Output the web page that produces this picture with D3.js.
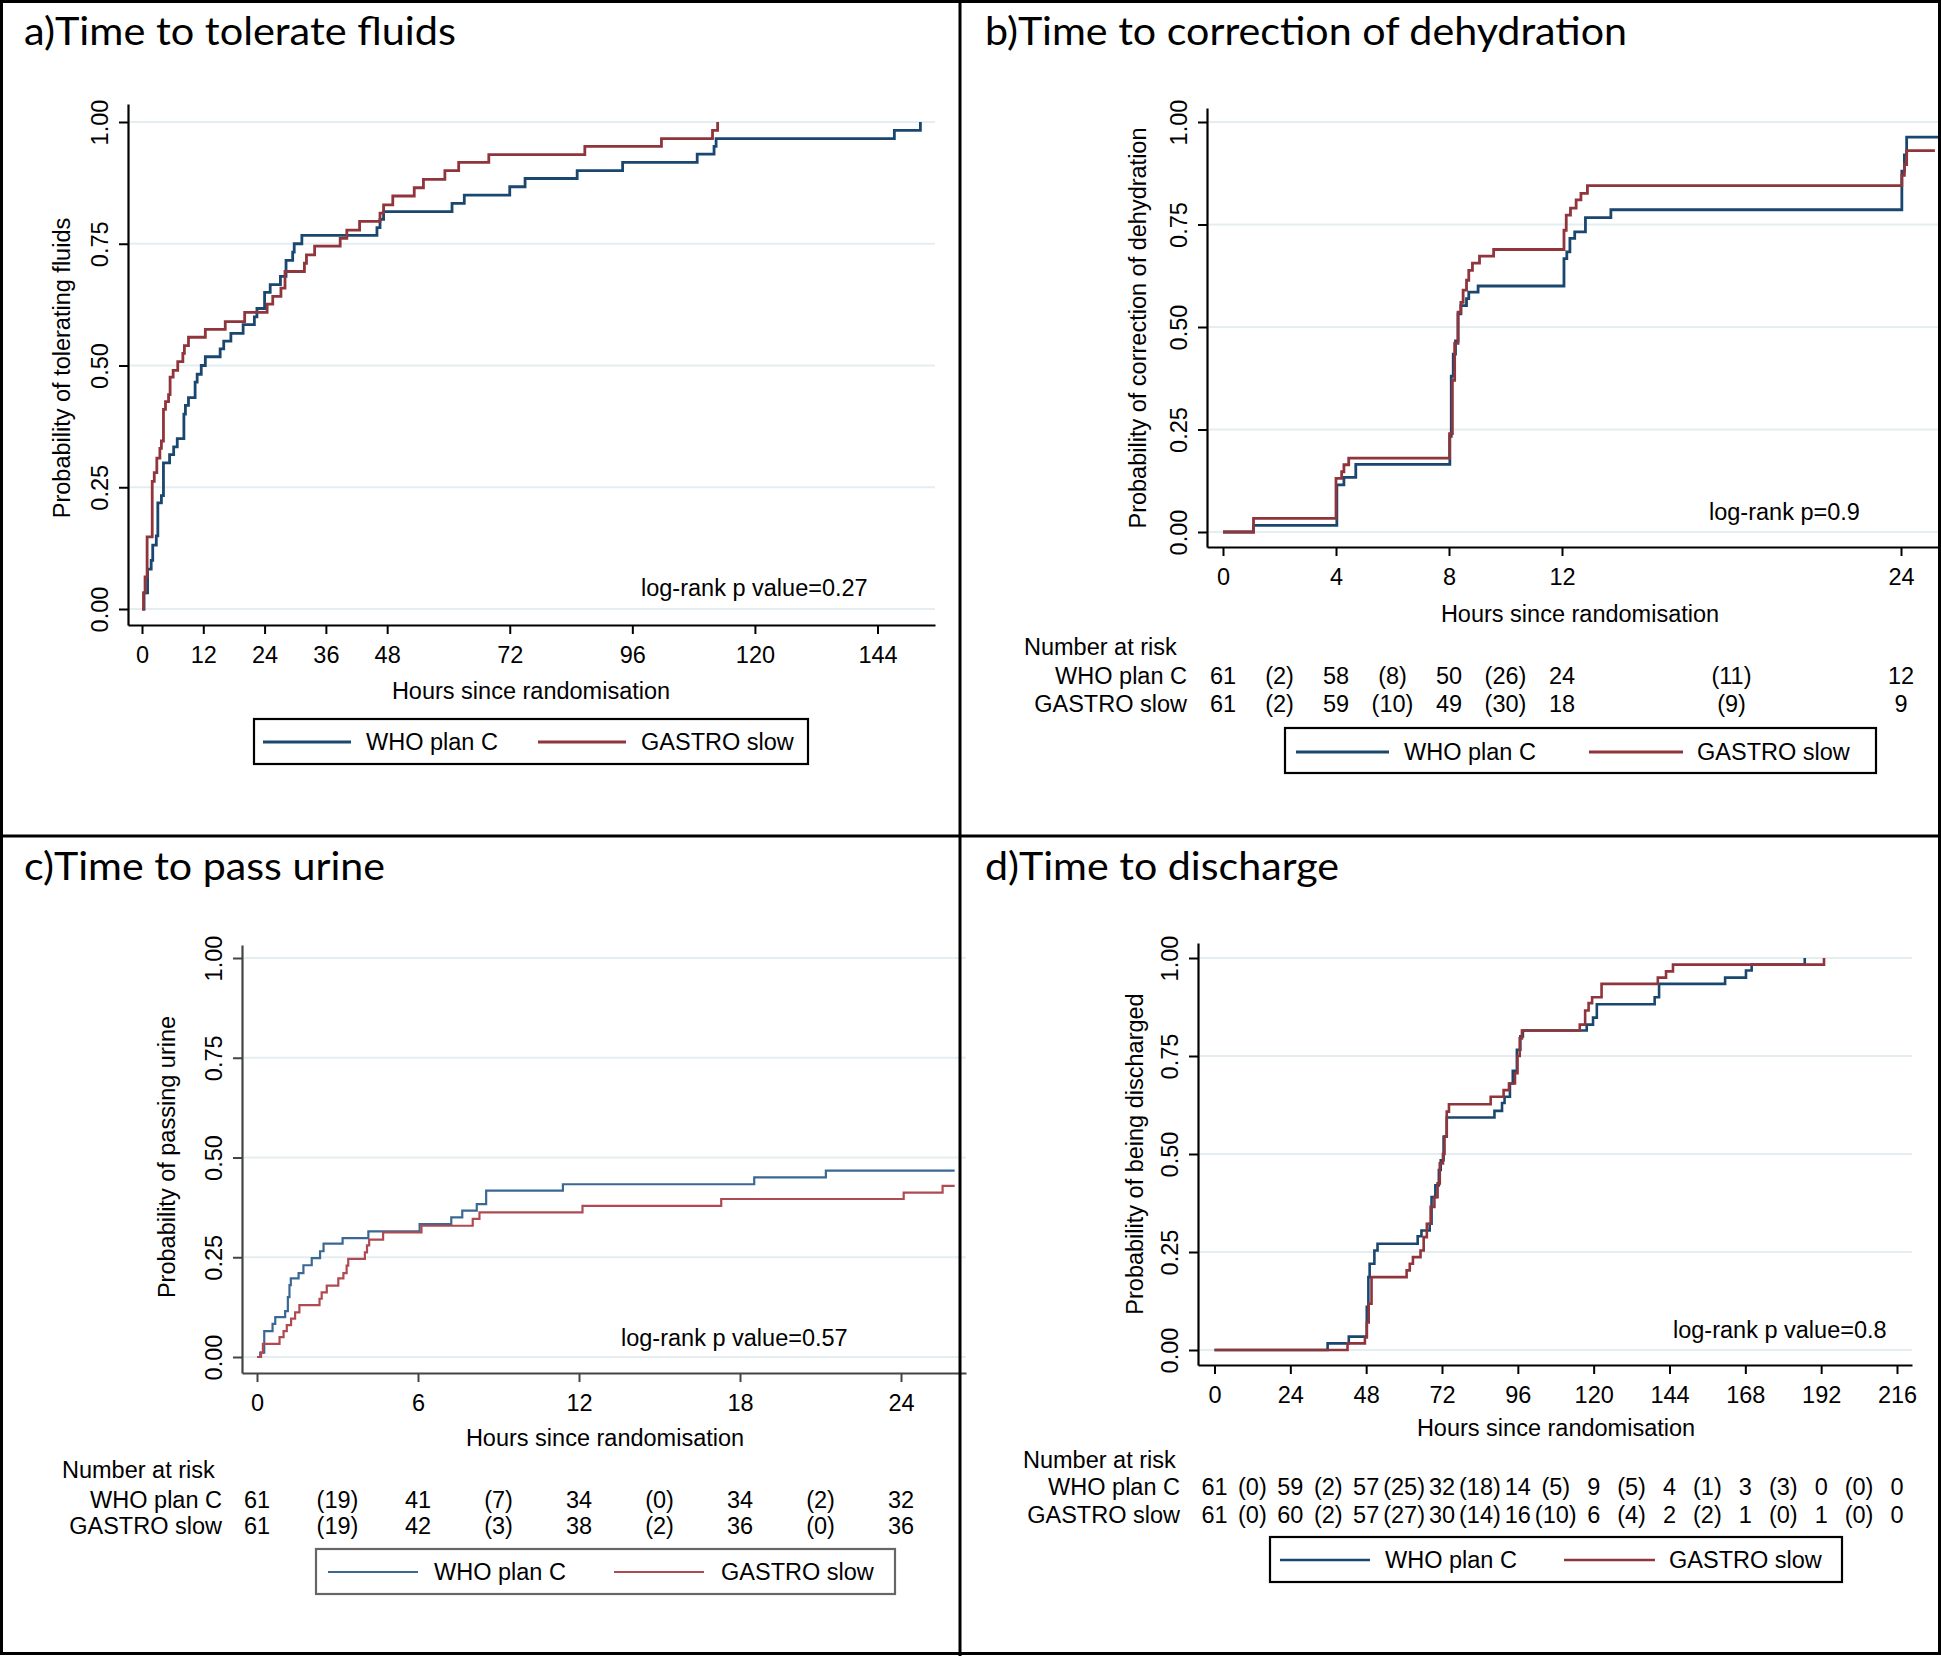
<!DOCTYPE html>
<html><head><meta charset="utf-8">
<script src="https://cdn.jsdelivr.net/npm/d3@7"></script>
<style>body{margin:0;background:#fff}svg{display:block}</style>
</head><body>
<svg id="chart" width="1941" height="1656"></svg>
<script>
// ---------------- DATA ----------------
const seriesNames = ["WHO plan C", "GASTRO slow"];
const panelTitles = ["a)Time to tolerate fluids", "b)Time to correction of dehydration", "c)Time to pass urine", "d)Time to discharge"];
const yAxisTitles = ["Probability of tolerating fluids", "Probability of correction of dehydration", "Probability of passing urine", "Probability of being discharged"];
const xAxisTitle = "Hours since randomisation";
const pValueTexts = ["log-rank p value=0.27", "log-rank p=0.9", "log-rank p value=0.57", "log-rank p value=0.8"];
const yTicks = [0, 0.25, 0.5, 0.75, 1];
const yTickLabels = ["0.00", "0.25", "0.50", "0.75", "1.00"];
const aXTicks = [0, 12, 24, 36, 48, 72, 96, 120, 144];
const bXTicks = [0, 4, 8, 12, 24];
const cXTicks = [0, 6, 12, 18, 24];
const dXTicks = [0, 24, 48, 72, 96, 120, 144, 168, 192, 216];

// a) time to tolerate fluids
const aWhoT = [0, 0.4, 1.1, 1.8, 2.1, 2.8, 3.1, 3.8, 4.2, 5.4, 6.2, 6.9, 8.2, 8.5, 9.1, 10.4, 10.8, 11.6, 12.4, 15.3, 16.0, 17.4, 19.8, 22.0, 22.5, 24.0, 25.1, 27.1, 28.2, 29.5, 29.8, 31.3, 46.0, 46.6, 47.3, 60.7, 63.1, 72.0, 75.0, 85.2, 94.1, 108.7, 112.0, 112.4, 147.3, 152.4];
const aWhoP = [0, 0.033, 0.082, 0.10, 0.131, 0.15, 0.218, 0.233, 0.30, 0.317, 0.333, 0.35, 0.40, 0.418, 0.434, 0.466, 0.482, 0.50, 0.518, 0.534, 0.55, 0.566, 0.584, 0.60, 0.617, 0.65, 0.666, 0.683, 0.716, 0.733, 0.75, 0.767, 0.783, 0.80, 0.816, 0.833, 0.85, 0.867, 0.884, 0.90, 0.917, 0.934, 0.95, 0.966, 0.983, 1.0];
const aGasT = [0, 0.3, 0.6, 1.0, 2.0, 2.4, 2.9, 3.5, 3.8, 4.2, 4.6, 5.2, 5.5, 6.1, 7.0, 8.0, 8.3, 9.1, 12.4, 16.3, 20.1, 24.5, 25.6, 27.2, 28.0, 31.8, 32.2, 33.8, 38.8, 40.1, 42.6, 46.6, 47.3, 49.1, 53.3, 55.1, 59.3, 62.0, 67.9, 86.7, 101.7, 111.7, 112.7];
const aGasP = [0, 0.033, 0.066, 0.148, 0.262, 0.28, 0.31, 0.33, 0.345, 0.41, 0.426, 0.44, 0.476, 0.49, 0.508, 0.525, 0.541, 0.558, 0.574, 0.59, 0.609, 0.626, 0.642, 0.659, 0.693, 0.71, 0.727, 0.745, 0.761, 0.778, 0.796, 0.813, 0.83, 0.848, 0.865, 0.882, 0.90, 0.917, 0.933, 0.95, 0.966, 0.983, 1.0];

// b) time to correction of dehydration
const bWhoT = [0, 1.08, 4.03, 4.28, 4.7, 8.03, 8.08, 8.15, 8.23, 8.32, 8.42, 8.62, 8.7, 9.03, 12.07, 12.17, 12.28, 12.45, 12.83, 13.73, 24.03, 24.12, 24.2];
const bWhoP = [0, 0.016, 0.115, 0.133, 0.165, 0.233, 0.38, 0.434, 0.466, 0.532, 0.552, 0.569, 0.585, 0.60, 0.667, 0.683, 0.716, 0.732, 0.767, 0.786, 0.88, 0.92, 0.963];
const bGasT = [0, 1.08, 4.0, 4.2, 4.28, 4.45, 8.02, 8.12, 8.2, 8.32, 8.42, 8.5, 8.62, 8.7, 8.83, 9.08, 9.58, 12.07, 12.15, 12.3, 12.5, 12.67, 12.9, 24.03, 24.12, 24.2];
const bGasP = [0, 0.033, 0.131, 0.147, 0.164, 0.18, 0.24, 0.37, 0.46, 0.536, 0.56, 0.59, 0.614, 0.638, 0.656, 0.673, 0.689, 0.736, 0.773, 0.79, 0.81, 0.826, 0.845, 0.87, 0.896, 0.93];
const bEnd = [25.4, 25.2];
const bRiskTimes = [0, 2, 4, 6, 8, 10, 12, 18, 24];
const bRiskWho = ["61", "(2)", "58", "(8)", "50", "(26)", "24", "(11)", "12"];
const bRiskGas = ["61", "(2)", "59", "(10)", "49", "(30)", "18", "(9)", "9"];

// c) time to pass urine
const cWhoT = [0, 0.12, 0.27, 0.58, 0.68, 1.05, 1.15, 1.21, 1.26, 1.55, 1.73, 2.04, 2.35, 2.48, 3.19, 4.15, 6.06, 7.24, 7.65, 8.19, 8.54, 11.4, 18.53, 21.2];
const cWhoP = [0, 0.011, 0.065, 0.083, 0.10, 0.115, 0.15, 0.18, 0.197, 0.21, 0.23, 0.248, 0.265, 0.284, 0.298, 0.315, 0.333, 0.35, 0.367, 0.383, 0.417, 0.433, 0.45, 0.467];
const cGasT = [0, 0.15, 0.22, 0.84, 0.99, 1.11, 1.27, 1.42, 1.58, 2.33, 2.41, 2.6, 3.03, 3.22, 3.34, 3.4, 4.02, 4.1, 4.18, 4.7, 6.13, 8.04, 8.29, 12.13, 17.3, 24.1, 25.55];
const cGasP = [0, 0.011, 0.033, 0.05, 0.065, 0.08, 0.096, 0.112, 0.13, 0.146, 0.162, 0.179, 0.197, 0.21, 0.229, 0.246, 0.262, 0.28, 0.294, 0.3125, 0.329, 0.346, 0.3625, 0.379, 0.396, 0.412, 0.429];
const cEnd = [26.0, 26.0];
const cRiskTimes = [0, 3, 6, 9, 12, 15, 18, 21, 24];
const cRiskWho = ["61", "(19)", "41", "(7)", "34", "(0)", "34", "(2)", "32"];
const cRiskGas = ["61", "(19)", "42", "(3)", "38", "(2)", "36", "(0)", "36"];

// d) time to discharge
const dWhoT = [0, 35.8, 42.5, 48.2, 48.7, 49.1, 50.6, 51.6, 64.3, 65.5, 68.1, 68.7, 69.9, 71.0, 71.6, 72.5, 73.5, 88.6, 91.0, 91.8, 93.5, 94.4, 95.7, 96.8, 97.6, 117.8, 119.8, 121.0, 139.3, 140.7, 161.6, 168.2, 170.0, 186.8];
const dWhoP = [0, 0.017, 0.034, 0.11, 0.186, 0.22, 0.254, 0.271, 0.29, 0.305, 0.322, 0.39, 0.42, 0.459, 0.484, 0.544, 0.593, 0.61, 0.63, 0.646, 0.68, 0.712, 0.766, 0.80, 0.815, 0.83, 0.848, 0.882, 0.90, 0.934, 0.95, 0.968, 0.983, 1.0];
const dGasT = [0, 42.1, 47.6, 48.2, 48.8, 49.7, 60.8, 61.8, 62.8, 65.2, 66.2, 67.2, 68.4, 69.6, 70.6, 71.3, 72.3, 72.8, 73.5, 74.2, 87.4, 91.5, 93.2, 95.1, 95.9, 96.6, 97.3, 115.6, 117.3, 118.4, 119.5, 122.5, 140.3, 142.9, 145.1, 192.9];
const dGasP = [0, 0.017, 0.032, 0.07, 0.118, 0.186, 0.203, 0.22, 0.237, 0.254, 0.288, 0.322, 0.365, 0.39, 0.425, 0.476, 0.5, 0.545, 0.608, 0.627, 0.646, 0.663, 0.68, 0.706, 0.75, 0.795, 0.815, 0.83, 0.866, 0.885, 0.90, 0.934, 0.95, 0.966, 0.983, 1.0];
const dRiskTimes = [0, 12, 24, 36, 48, 60, 72, 84, 96, 108, 120, 132, 144, 156, 168, 180, 192, 204, 216];
const dRiskWho = ["61", "(0)", "59", "(2)", "57", "(25)", "32", "(18)", "14", "(5)", "9", "(5)", "4", "(1)", "3", "(3)", "0", "(0)", "0"];
const dRiskGas = ["61", "(0)", "60", "(2)", "57", "(27)", "30", "(14)", "16", "(10)", "6", "(4)", "2", "(2)", "1", "(0)", "1", "(0)", "0"];

// ---------------- DRAWING ----------------
const FONT = "'Liberation Sans', Arial, sans-serif";
const FS = 23.5;
const svg = d3.select("#chart");
svg.append("rect").attr("width", 1941).attr("height", 1656).attr("fill", "#fff");

const panels = [
  { title: panelTitles[0], titleX: 24, titleY: 45, titleW: 432,
    yTitle: yAxisTitles[0], yTitleX: 62, yTitleY: 368,
    axL: 128, axR: 935, axT: 104, axB: 625, x0px: 142, xRef: 144, xRefPx: 877.5, y0px: 609, y1px: 122,
    xTicks: aXTicks, xTitleX: 531, xTitleY: 691, pText: pValueTexts[0], pX: 641, pY: 588,
    series: [[aWhoT, aWhoP, null], [aGasT, aGasP, null]],
    colors: ["#1a476f", "#90353b"], lw: 2.8, axisColor: "#000",
    legend: { x0: 254, x1: 808, y0: 719, y1: 764, l1: [263, 351], t1: 366, l2: [538, 626], t2: 641, yc: 742, stroke: "#000" } },
  { title: panelTitles[1], titleX: 985, titleY: 45, titleW: 642,
    yTitle: yAxisTitles[1], yTitleX: 1138, yTitleY: 328,
    axL: 1207, axR: 1940, axT: 108, axB: 547, x0px: 1223, xRef: 24, xRefPx: 1901, y0px: 532, y1px: 122,
    xTicks: bXTicks, xTitleX: 1580, xTitleY: 614, pText: pValueTexts[1], pX: 1709, pY: 512,
    series: [[bWhoT, bWhoP, bEnd[0]], [bGasT, bGasP, bEnd[1]]],
    colors: ["#1a476f", "#90353b"], lw: 2.8, axisColor: "#000",
    risk: { times: bRiskTimes, rows: [bRiskWho, bRiskGas], labelR: 1187, headX: 1024, headY: 647, rowY: [676, 704] },
    legend: { x0: 1285, x1: 1876, y0: 728, y1: 773, l1: [1296, 1389], t1: 1404, l2: [1589, 1683], t2: 1697, yc: 752, stroke: "#000" } },
  { title: panelTitles[2], titleX: 24, titleY: 880, titleW: 361,
    yTitle: yAxisTitles[2], yTitleX: 167, yTitleY: 1157,
    axL: 242, axR: 966, axT: 945, axB: 1373, x0px: 257, xRef: 24, xRefPx: 901, y0px: 1357, y1px: 958,
    xTicks: cXTicks, xTitleX: 605, xTitleY: 1438, pText: pValueTexts[2], pX: 621, pY: 1338,
    series: [[cWhoT, cWhoP, cEnd[0]], [cGasT, cGasP, cEnd[1]]],
    colors: ["#3a6894", "#b04a52"], lw: 2.2, axisColor: "#444",
    risk: { times: cRiskTimes, rows: [cRiskWho, cRiskGas], labelR: 222, headX: 62, headY: 1470, rowY: [1500, 1526] },
    legend: { x0: 316, x1: 895, y0: 1549, y1: 1594, l1: [328, 418], t1: 434, l2: [614, 704], t2: 721, yc: 1572, stroke: "#666" } },
  { title: panelTitles[3], titleX: 985, titleY: 880, titleW: 354,
    yTitle: yAxisTitles[3], yTitleX: 1135, yTitleY: 1154,
    axL: 1198, axR: 1912, axT: 943, axB: 1365, x0px: 1214.5, xRef: 216, xRefPx: 1897, y0px: 1350, y1px: 958,
    xTicks: dXTicks, xTitleX: 1556, xTitleY: 1428, pText: pValueTexts[3], pX: 1673, pY: 1330,
    series: [[dWhoT, dWhoP, null], [dGasT, dGasP, null]],
    colors: ["#1a476f", "#90353b"], lw: 2.6, axisColor: "#000",
    risk: { times: dRiskTimes, rows: [dRiskWho, dRiskGas], labelR: 1180, headX: 1023, headY: 1460, rowY: [1487, 1515] },
    legend: { x0: 1270, x1: 1842, y0: 1537, y1: 1582, l1: [1280, 1370], t1: 1385, l2: [1564, 1655], t2: 1669, yc: 1560, stroke: "#000" } }
];

function drawPanel(p) {
  const g = svg.append("g");
  // scales built from two anchor points, extended to the axis lines
  const xa = d3.scaleLinear().domain([0, p.xRef]).range([p.x0px, p.xRefPx]);
  const x = d3.scaleLinear().domain([xa.invert(p.axL), xa.invert(p.axR)]).range([p.axL, p.axR]);
  const ya = d3.scaleLinear().domain([0, 1]).range([p.y0px, p.y1px]);
  const y = d3.scaleLinear().domain([ya.invert(p.axB), ya.invert(p.axT)]).range([p.axB, p.axT]);

  // title
  g.append("text").attr("x", p.titleX).attr("y", p.titleY).text(p.title)
    .attr("font-family", "Lato, 'Open Sans', sans-serif").attr("font-size", 39)
    .attr("textLength", p.titleW).attr("lengthAdjust", "spacingAndGlyphs").attr("fill", "#000");

  // grid
  g.append("g").selectAll("line").data(yTicks).join("line")
    .attr("x1", p.axL + 2).attr("x2", p.axR).attr("y1", d => y(d)).attr("y2", d => y(d))
    .attr("stroke", "#e4edf0").attr("stroke-width", 2.2);

  // x axis
  const gx = g.append("g").attr("transform", `translate(0,${p.axB})`)
    .call(d3.axisBottom(x).tickValues(p.xTicks).tickFormat(d3.format("d")).tickSize(9).tickSizeOuter(0));
  gx.select(".domain").attr("stroke", p.axisColor).attr("stroke-width", 2.2);
  gx.selectAll(".tick line").attr("stroke", p.axisColor).attr("stroke-width", 2);
  gx.selectAll(".tick text").attr("y", 30).attr("dy", null).attr("dominant-baseline", "central")
    .attr("font-family", FONT).attr("font-size", FS).attr("fill", "#000");

  // y axis
  const gy = g.append("g").attr("transform", `translate(${p.axL},0)`)
    .call(d3.axisLeft(y).tickValues(yTicks).tickFormat((d, i) => yTickLabels[i]).tickSize(9).tickSizeOuter(0));
  gy.select(".domain").attr("stroke", p.axisColor).attr("stroke-width", 2.2);
  gy.selectAll(".tick line").attr("stroke", p.axisColor).attr("stroke-width", 2);
  gy.selectAll(".tick text").attr("x", null).attr("dy", null)
    .attr("transform", "translate(-28,0) rotate(-90)").attr("text-anchor", "middle")
    .attr("dominant-baseline", "central").attr("font-family", FONT).attr("font-size", FS).attr("fill", "#000");

  // axis titles
  g.append("text").attr("x", p.xTitleX).attr("y", p.xTitleY).attr("text-anchor", "middle")
    .attr("dominant-baseline", "central").attr("font-family", FONT).attr("font-size", FS).text(xAxisTitle);
  g.append("text").attr("transform", `translate(${p.yTitleX},${p.yTitleY}) rotate(-90)`)
    .attr("text-anchor", "middle").attr("dominant-baseline", "central")
    .attr("font-family", FONT).attr("font-size", FS).text(p.yTitle);

  // curves
  const line = d3.line().x(d => x(d[0])).y(d => y(d[1])).curve(d3.curveStepAfter);
  p.series.forEach((s, i) => {
    const pts = s[0].map((t, k) => [t, s[1][k]]);
    if (s[2] != null) pts.push([s[2], s[1][s[1].length - 1]]);
    g.append("path").datum(pts).attr("d", line).attr("fill", "none")
      .attr("stroke", p.colors[i]).attr("stroke-width", p.lw).attr("stroke-linejoin", "miter");
  });

  // p-value text
  g.append("text").attr("x", p.pX).attr("y", p.pY).attr("dominant-baseline", "central")
    .attr("font-family", FONT).attr("font-size", FS).text(p.pText);

  // number at risk
  if (p.risk) {
    const r = p.risk;
    g.append("text").attr("x", r.headX).attr("y", r.headY).attr("dominant-baseline", "central")
      .attr("font-family", FONT).attr("font-size", FS).text("Number at risk");
    r.rows.forEach((row, i) => {
      g.append("text").attr("x", r.labelR).attr("y", r.rowY[i]).attr("text-anchor", "end")
        .attr("dominant-baseline", "central").attr("font-family", FONT).attr("font-size", FS).text(seriesNames[i]);
      g.append("g").selectAll("text").data(row).join("text")
        .attr("x", (d, k) => x(r.times[k])).attr("y", r.rowY[i]).attr("text-anchor", "middle")
        .attr("dominant-baseline", "central").attr("font-family", FONT).attr("font-size", FS).text(d => d);
    });
  }

  // legend
  const L = p.legend;
  g.append("rect").attr("x", L.x0).attr("y", L.y0).attr("width", L.x1 - L.x0).attr("height", L.y1 - L.y0)
    .attr("fill", "#fff").attr("stroke", L.stroke).attr("stroke-width", 2.2);
  [[L.l1, L.t1], [L.l2, L.t2]].forEach((e, i) => {
    g.append("line").attr("x1", e[0][0]).attr("x2", e[0][1]).attr("y1", L.yc).attr("y2", L.yc)
      .attr("stroke", p.colors[i]).attr("stroke-width", p.lw);
    g.append("text").attr("x", e[1]).attr("y", L.yc).attr("dominant-baseline", "central")
      .attr("font-family", FONT).attr("font-size", FS).text(seriesNames[i]);
  });
}

panels.forEach(drawPanel);

// panel frames
const frame = svg.append("g").attr("stroke", "#000").attr("stroke-width", 3).attr("fill", "none");
frame.append("rect").attr("x", 1.5).attr("y", 1.5).attr("width", 1938).attr("height", 1652);
frame.append("line").attr("x1", 960).attr("x2", 960).attr("y1", 0).attr("y2", 1656);
frame.append("line").attr("x1", 0).attr("x2", 1941).attr("y1", 836).attr("y2", 836);
</script>
</body></html>
